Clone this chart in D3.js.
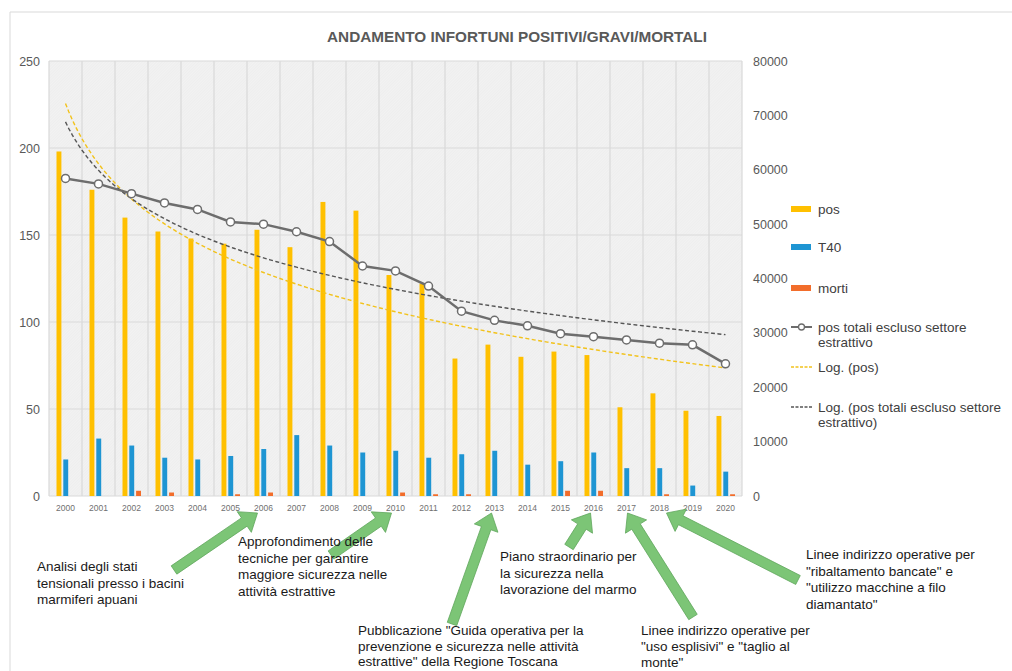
<!DOCTYPE html>
<html>
<head>
<meta charset="utf-8">
<script src="https://cdn.jsdelivr.net/npm/d3@7"></script>
<style>
  html, body { margin: 0; padding: 0; background: #fff; }
  svg { display: block; font-family: "Liberation Sans", Arial, sans-serif; }
</style>
</head>
<body>
<svg id="chart" width="1012" height="671"></svg>
<script>
// ---------- DATA ----------
const years = ["2000","2001","2002","2003","2004","2005","2006","2007","2008","2009","2010",
               "2011","2012","2013","2014","2015","2016","2017","2018","2019","2020"];
const pos   = [198,176,160,152,148,145,153,143,169,164,127,122,79,87,80,83,81,51,59,49,46];
const t40   = [21,33,29,22,21,23,27,35,29,25,26,22,24,26,18,20,25,16,16,6,14];
const morti = [0,0,3,2,0,1,2,0,0,0,2,1,1,0,0,3,3,0,1,0,1];
const posTotali = [58400,57400,55600,53900,52700,50400,50000,48600,46800,42300,41400,
                   38600,34000,32300,31300,29850,29300,28700,28100,27800,24300];
const leftTicks  = [0,50,100,150,200,250];
const rightTicks = [0,10000,20000,30000,40000,50000,60000,70000,80000];
const barSeries = ["pos","T40","morti"];
const title = "ANDAMENTO INFORTUNI POSITIVI/GRAVI/MORTALI";
const legendLabels = ["pos","T40","morti","pos totali escluso settore|estrattivo","Log. (pos)",
                      "Log. (pos totali escluso settore|estrattivo)"];
const annotations = [
  {year:"2006", lines:["Analisi degli stati","tensionali presso i bacini","marmiferi apuani"]},
  {year:"2010", lines:["Approfondimento delle","tecniche per garantire","maggiore sicurezza nelle","attività estrattive"]},
  {year:"2013", lines:["Pubblicazione \"Guida operativa per la","prevenzione e sicurezza nelle attività","estrattive\" della Regione Toscana"]},
  {year:"2016", lines:["Piano straordinario per","la sicurezza nella","lavorazione del marmo"]},
  {year:"2017", lines:["Linee indirizzo operative per","\"uso esplisivi\" e \"taglio al","monte\""]},
  {year:"2018", lines:["Linee indirizzo operative per","\"ribaltamento bancate\" e","\"utilizzo macchine a filo","diamantato\""]}
];
// layout of annotations (text position, arrow tail, tip offset, line spacing)
const annLayout = [
  {tx:37,  ty:571, tail:[174,570], dx:-6, lh:16.6},
  {tx:238, ty:546, tail:[331,555], dx:-4, lh:16.6},
  {tx:358, ty:635, tail:[452,624], dx:-3, lh:15.6},
  {tx:500, ty:561, tail:[569,547], dx:-3, lh:16.6},
  {tx:641, ty:635, tail:[693,617], dx:1,  lh:16.2},
  {tx:806, ty:559, tail:[798,580], dx:7,  lh:16.6}
];

// ---------- SETUP ----------
const svg = d3.select("#chart");
const colors = {pos:"#FFC000", T40:"#1E95D3", morti:"#F26D2B", line:"#6d6d6d",
                trendPos:"#F2C21B", trendTot:"#555555"};
const M = {left:49, right:742, top:61, bottom:496};

const x = d3.scaleBand().domain(years).range([M.left, M.right]).paddingInner(0).paddingOuter(0);
const x1 = d3.scaleBand().domain(barSeries).range([7.5, 26]).paddingInner(0.28);
const yL = d3.scaleLinear().domain([0,250]).range([M.bottom, M.top]);
const yR = d3.scaleLinear().domain([0,80000]).range([M.bottom, M.top]);

// frame
svg.append("line").attr("x1",10).attr("y1",12).attr("x2",1012).attr("y2",12).attr("stroke","#d9d9d9");
svg.append("line").attr("x1",10).attr("y1",12).attr("x2",10).attr("y2",671).attr("stroke","#d9d9d9");

// pattern background
const defs = svg.append("defs");
const pat = defs.append("pattern").attr("id","hatch").attr("width",2).attr("height",2)
  .attr("patternUnits","userSpaceOnUse").attr("patternTransform","rotate(45)");
pat.append("rect").attr("width",2).attr("height",2).attr("fill","#f2f2f2");
pat.append("line").attr("x1",0).attr("y1",0).attr("x2",0).attr("y2",2).attr("stroke","#e8e8e8").attr("stroke-width",0.8);

svg.append("rect").attr("x",M.left).attr("y",M.top).attr("width",M.right-M.left).attr("height",M.bottom-M.top)
  .attr("fill","url(#hatch)");

// title
svg.append("text").attr("x",517).attr("y",42).attr("text-anchor","middle")
  .attr("font-size",15.3).attr("font-weight","bold").attr("fill","#595959").text(title);

// gridlines
svg.append("g").selectAll("line").data(leftTicks).join("line")
  .attr("x1",M.left).attr("x2",M.right).attr("y1",d=>yL(d)).attr("y2",d=>yL(d))
  .attr("stroke","#d9d9d9").attr("stroke-width",1.2);
svg.append("g").selectAll("line").data(years.concat(["end"])).join("line")
  .attr("x1",(d,i)=> i<years.length ? x(d) : M.right).attr("x2",(d,i)=> i<years.length ? x(d) : M.right)
  .attr("y1",M.top).attr("y2",M.bottom).attr("stroke","#d9d9d9").attr("stroke-width",1.2);

// left axis
const gL = svg.append("g").attr("transform",`translate(${M.left-9},0)`)
  .call(d3.axisLeft(yL).tickValues(leftTicks).tickSize(0).tickPadding(0));
gL.select(".domain").remove();
gL.selectAll("text").attr("font-size",12.5).attr("fill","#595959").attr("font-family","Liberation Sans, Arial");

// right axis
const gR = svg.append("g").attr("transform",`translate(${M.right+11},0)`)
  .call(d3.axisRight(yR).tickValues(rightTicks).tickSize(0).tickPadding(0).tickFormat(d3.format("d")));
gR.select(".domain").remove();
gR.selectAll("text").attr("font-size",12.5).attr("fill","#595959").attr("font-family","Liberation Sans, Arial");

// bottom axis labels
const gB = svg.append("g").attr("transform",`translate(0,${M.bottom})`)
  .call(d3.axisBottom(x).tickSize(0).tickPadding(9));
gB.select(".domain").remove();
gB.selectAll("text").attr("font-size",8.5).attr("fill","#707070").attr("font-family","Liberation Sans, Arial");

// bars
const seriesData = {pos:pos, T40:t40, morti:morti};
const groups = svg.append("g").selectAll("g").data(years).join("g")
  .attr("transform", d=>`translate(${x(d)},0)`);
groups.selectAll("rect").data((d,i)=> barSeries.map(s=>({s, v:seriesData[s][i]})))
  .join("rect")
  .attr("x", d=>x1(d.s)).attr("width", x1.bandwidth())
  .attr("y", d=>yL(d.v)).attr("height", d=>yL(0)-yL(d.v))
  .attr("fill", d=>colors[d.s]);

// logarithmic trendlines (least squares y = a + b ln(i+1))
function logFit(vals){
  const xs = vals.map((v,i)=>Math.log(i+1));
  const mx = d3.mean(xs), my = d3.mean(vals);
  let sxy=0, sxx=0;
  xs.forEach((xv,i)=>{ sxy += (xv-mx)*(vals[i]-my); sxx += (xv-mx)*(xv-mx); });
  const b = sxy/sxx, a = my - b*mx;
  return t => a + b*Math.log(t+1);
}
const xc = d3.scaleLinear().domain([0, years.length-1])
  .range([x(years[0])+x.bandwidth()/2, x(years[years.length-1])+x.bandwidth()/2]);
const tSteps = d3.range(0, years.length-1+0.001, 0.1);

const fPos = logFit(pos);
svg.append("path").datum(tSteps)
  .attr("d", d3.line().x(t=>xc(t)).y(t=>yL(fPos(t))))
  .attr("fill","none").attr("stroke",colors.trendPos).attr("stroke-width",1.4).attr("stroke-dasharray","4,2.5");

const fTot = logFit(posTotali);
svg.append("path").datum(tSteps)
  .attr("d", d3.line().x(t=>xc(t)).y(t=>yR(fTot(t))))
  .attr("fill","none").attr("stroke",colors.trendTot).attr("stroke-width",1.4).attr("stroke-dasharray","4,2.5");

// line series
const lineGen = d3.line().x((d,i)=>x(years[i])+x.bandwidth()/2).y(d=>yR(d));
svg.append("path").datum(posTotali).attr("d", lineGen)
  .attr("fill","none").attr("stroke",colors.line).attr("stroke-width",2.5);
svg.append("g").selectAll("circle").data(posTotali).join("circle")
  .attr("cx",(d,i)=>x(years[i])+x.bandwidth()/2).attr("cy",d=>yR(d)).attr("r",4)
  .attr("fill","#fff").attr("stroke",colors.line).attr("stroke-width",1.5);

// legend
const lg = svg.append("g").attr("font-size",13.5).attr("fill","#404040");
const legY = [209,247,288,327,367,407];
const lgKinds = ["pos","T40","morti","line","trendPos","trendTot"];
lgKinds.forEach((k,i)=>{
  const yy = legY[i];
  if (k==="pos"||k==="T40"||k==="morti"){
    lg.append("rect").attr("x",791).attr("y",yy-3).attr("width",20).attr("height",6).attr("fill",colors[k]);
  } else if (k==="line"){
    lg.append("line").attr("x1",791).attr("x2",812).attr("y1",yy).attr("y2",yy).attr("stroke",colors.line).attr("stroke-width",2);
    lg.append("circle").attr("cx",801.5).attr("cy",yy).attr("r",3).attr("fill","#fff").attr("stroke",colors.line).attr("stroke-width",1.3);
  } else {
    lg.append("line").attr("x1",791).attr("x2",812).attr("y1",yy).attr("y2",yy)
      .attr("stroke",colors[k]).attr("stroke-width",1.3).attr("stroke-dasharray","3,1.5");
  }
  const parts = legendLabels[i].split("|");
  const t = lg.append("text").attr("x",818).attr("y",yy).attr("fill","#404040");
  parts.forEach((p,j)=> t.append("tspan").attr("x",818).attr("dy", j===0 ? "0.35em" : "1.15em").text(p));
});

// annotations: arrows + text
function arrowPath(x0,y0,x2,y2){
  const dx=x2-x0, dy=y2-y0, L=Math.hypot(dx,dy);
  const ux=dx/L, uy=dy/L, nx=-uy, ny=ux;
  const bw=5, hw=12.5, hl=16;
  const bx=x2-ux*hl, by=y2-uy*hl;
  const p=[[x0+nx*bw,y0+ny*bw],[bx+nx*bw,by+ny*bw],[bx+nx*hw,by+ny*hw],[x2,y2],
           [bx-nx*hw,by-ny*hw],[bx-nx*bw,by-ny*bw],[x0-nx*bw,y0-ny*bw]];
  return "M"+p.map(q=>q.join(",")).join("L")+"Z";
}
const ag = svg.append("g");
annotations.forEach((a,i)=>{
  const L = annLayout[i];
  const tipX = x(a.year)+x.bandwidth()/2 + L.dx;
  const tipY = 513;
  ag.append("path").attr("d", arrowPath(L.tail[0],L.tail[1],tipX,tipY))
    .attr("fill","#7CC576").attr("stroke","#5FA65C").attr("stroke-width",0.8);
  const t = ag.append("text").attr("font-size",13.5).attr("fill","#1a1a1a");
  a.lines.forEach((ln,j)=> t.append("tspan").attr("x",L.tx).attr("y",L.ty + j*L.lh).text(ln));
});
</script>
</body>
</html>
